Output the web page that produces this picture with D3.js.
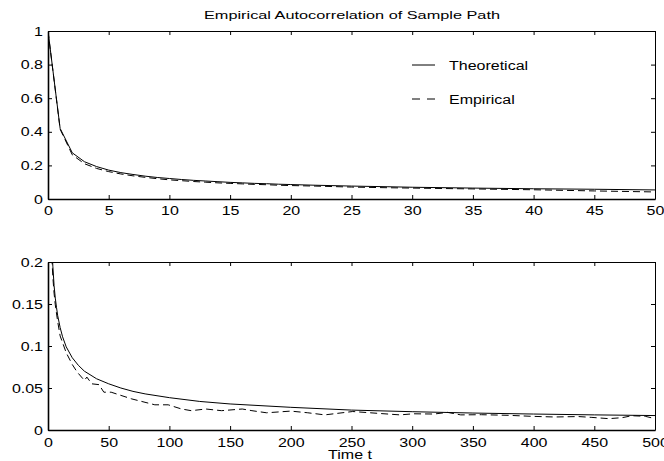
<!DOCTYPE html>
<html><head><meta charset="utf-8">
<script src="https://cdn.jsdelivr.net/npm/d3@7"></script>
<style>
html,body{margin:0;padding:0;background:#fff;}
svg{display:block;font-family:"Liberation Sans",Arial,sans-serif;}
</style></head>
<body><svg id="c" width="664" height="461"></svg>
<script>
const titleText = "Empirical Autocorrelation of Sample Path";
const xLabelText = "Time t";
const legendLabels = ["Theoretical", "Empirical"];

const topTicksX = [0,5,10,15,20,25,30,35,40,45,50];
const topTicksY = [0,0.2,0.4,0.6,0.8,1];
const botTicksX = [0,50,100,150,200,250,300,350,400,450,500];
const botTicksY = [0,0.05,0.1,0.15,0.2];

const topLag = [0,1,2,3,4,5,6,7,8,9,10,11,12,13,14,15,16,17,18,19,20,22,25,28,30,35,40,45,50];
const topTheo = [1,0.42,0.275,0.222,0.193,0.172,0.157,0.146,0.136,0.128,0.122,0.116,0.111,0.107,0.103,0.099,0.096,0.093,0.091,0.088,0.086,0.082,0.077,0.073,0.070,0.065,0.061,0.058,0.054];
const topEmp = [1,0.415,0.263,0.21,0.182,0.163,0.149,0.138,0.129,0.121,0.114,0.109,0.104,0.100,0.096,0.093,0.090,0.087,0.085,0.082,0.080,0.077,0.071,0.067,0.065,0.060,0.055,0.048,0.042];

const botLagTheo = [1,2,3,4,5,6,7,8,10,12,15,20,25,30,40,50,60,70,80,100,125,150,200,250,300,350,400,450,500];
const botTheo = [0.42,0.275,0.222,0.195,0.172,0.157,0.146,0.136,0.122,0.111,0.099,0.086,0.077,0.070,0.061,0.055,0.050,0.046,0.043,0.0385,0.034,0.031,0.027,0.0237,0.0218,0.0202,0.0190,0.0180,0.0172];

const botLagEmp = [1,2,3,4,5,6,8,10,15,20,24,30,32,36,42,46,52,69,88,99,110,118,130,143,160,168,180,200,214,228,251,274,290,301,318,329,340,357,379,398,417,437,448,462,473,481,492,500];
const botEmp = [0.415,0.263,0.21,0.182,0.163,0.149,0.129,0.112,0.092,0.078,0.069,0.059,0.063,0.055,0.054,0.045,0.045,0.037,0.030,0.030,0.025,0.023,0.025,0.023,0.025,0.023,0.0205,0.0225,0.0205,0.018,0.022,0.0196,0.018,0.0193,0.019,0.021,0.018,0.0182,0.0175,0.0163,0.0155,0.016,0.015,0.0135,0.0147,0.017,0.0163,0.0135];

const svg = d3.select("#c");
const FS = 12.5, SX = 1.28;
const L = 48, R = 655;

function scaleTexts(sel){
  sel.selectAll("text").each(function(){
    const t = d3.select(this);
    const x = +t.attr("x") || 0, y = +t.attr("y") || 0;
    t.attr("x", 0).attr("y", 0)
     .attr("transform", `translate(${x},${y}) scale(${SX},1)`);
  });
}

function panel(id, top, bottom, xDom, yDom, xTicks, yTicks, yFmt, padX, series){
  const x = d3.scaleLinear().domain(xDom).range([L, R]);
  const y = d3.scaleLinear().domain(yDom).range([bottom, top]);
  const g = svg.append("g");
  g.append("clipPath").attr("id", id).append("rect")
    .attr("x", L).attr("y", top).attr("width", R - L).attr("height", bottom - top);

  const line = d3.line().x(d => x(d[0])).y(d => y(d[1]));
  series.forEach(s => {
    g.append("path").attr("clip-path", `url(#${id})`)
      .attr("d", line(s.lag.map((t, i) => [t, s.val[i]])))
      .attr("fill", "none").attr("stroke", "#000").attr("stroke-width", 1)
      .attr("stroke-dasharray", s.dash || null);
  });

  const ax = [
    g.append("g").attr("transform", `translate(0,${bottom})`)
      .call(d3.axisBottom(x).tickValues(xTicks).tickSizeInner(-4).tickSizeOuter(0).tickPadding(padX).tickFormat(d3.format("d"))),
    g.append("g").attr("transform", `translate(${L},0)`)
      .call(d3.axisLeft(y).tickValues(yTicks).tickSizeInner(-4).tickSizeOuter(0).tickPadding(5).tickFormat(yFmt)),
    g.append("g").attr("transform", `translate(0,${top})`)
      .call(d3.axisTop(x).tickValues(xTicks).tickSizeInner(-4).tickSizeOuter(0).tickFormat("")),
    g.append("g").attr("transform", `translate(${R},0)`)
      .call(d3.axisRight(y).tickValues(yTicks).tickSizeInner(-4).tickSizeOuter(0).tickFormat(""))
  ];
  ax.forEach((a, i) => {
    a.attr("font-size", FS).attr("font-family", null);
    a.selectAll("text").attr("fill", "#000");
    a.selectAll("line").attr("stroke", "#000");
    a.select(".domain").attr("stroke", "#000").attr("stroke-width", i < 2 ? 1.6 : 1);
    scaleTexts(a);
  });
  return {x, y, g};
}

const fmtY = d => d === 0 ? "0" : String(+d.toFixed(2));

panel("clipTop", 31, 199, [0, 50], [0, 1], topTicksX, topTicksY, fmtY, 7,
  [{lag: topLag, val: topTheo}, {lag: topLag, val: topEmp, dash: "7,4"}]);
panel("clipBot", 262, 430, [0, 500], [0, 0.2], botTicksX, botTicksY, fmtY, 8,
  [{lag: botLagTheo, val: botTheo}, {lag: botLagEmp, val: botEmp, dash: "7,4"}]);

// title
svg.append("text").attr("x", 352).attr("y", 19).attr("text-anchor", "middle")
  .attr("font-size", 11.5).attr("textLength", 296).attr("lengthAdjust", "spacingAndGlyphs")
  .text(titleText);

// x label
svg.append("text").attr("text-anchor", "middle").attr("font-size", FS)
  .attr("transform", `translate(350,459) scale(${SX},1)`).text(xLabelText);

// legend
const leg = svg.append("g");
[[65, null], [99, "8,7"]].forEach((d, i) => {
  leg.append("line").attr("x1", 412).attr("x2", 435).attr("y1", d[0]).attr("y2", d[0])
    .attr("stroke", "#000").attr("stroke-width", 1).attr("stroke-dasharray", d[1]);
  leg.append("text").attr("font-size", FS)
    .attr("transform", `translate(449,${d[0] + 5}) scale(${SX},1)`).text(legendLabels[i]);
});
</script></body></html>
